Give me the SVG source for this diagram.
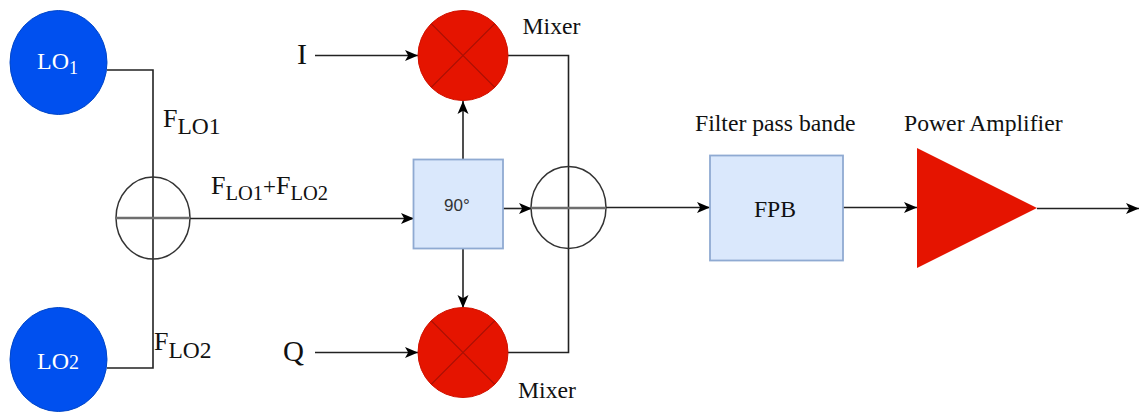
<svg xmlns="http://www.w3.org/2000/svg" width="1139" height="412" viewBox="0 0 1139 412">
<style>
.w{fill:none;stroke:#222;stroke-width:1.6}
.a{marker-end:url(#arr)}
.sum{fill:none;stroke:#333;stroke-width:1.5}
.bar{stroke:#6e6e6e;stroke-width:2.4}
.lo{fill:#0050ef;stroke:#0046c8;stroke-width:1}
.mix{fill:#e51400;stroke:#d01200;stroke-width:1}
.x{stroke:#a81004;stroke-width:1.2}
.box{fill:#dae8fc;stroke:#8faad2;stroke-width:1.8}
text{font-family:"Liberation Serif","Times New Roman",serif;fill:#111}
.t{font-size:23.7px}
.f{font-size:26px}
.s{font-size:23.5px}
</style>
<defs>
<marker id="arr" markerUnits="userSpaceOnUse" markerWidth="14" markerHeight="14" refX="13" refY="7" orient="auto">
<path d="M0 1.500 L13 7 L0 12.500 L3.200 7 Z" fill="#000"/>
</marker>
</defs>
<g id="connectors">
<path class="w" d="M107 70H153V368H107"/>
<path class="w a" d="M190 218.500H414"/>
<path class="w a" d="M315 55.500H418"/>
<path class="w a" d="M315 352.500H418"/>
<path class="w a" d="M463 159V101"/>
<path class="w a" d="M463 248V308"/>
<path class="w" d="M508 55.500H568.500V352.500H508"/>
<path class="w a" d="M503 208.500H532"/>
<path class="w a" d="M606 207.500H710"/>
<path class="w a" d="M843 207.500H917"/>
<path class="w a" d="M1037 208.500H1139"/>
</g>
<g id="lo1"><ellipse class="lo" cx="58.500" cy="62.500" rx="48.500" ry="52"/>
<text x="37" y="68.500" style="font-size:24px;fill:#fff">LO<tspan font-size="18" dy="5">1</tspan></text></g>
<g id="lo2"><ellipse class="lo" cx="58.500" cy="359.500" rx="48.500" ry="52"/>
<text x="37" y="368.500" style="font-size:24px;fill:#fff">LO<tspan font-size="20">2</tspan></text></g>
<g id="sum1"><ellipse class="sum" cx="153" cy="218" rx="37" ry="41"/><path class="bar" d="M116 218H190"/></g>
<g id="sum2"><ellipse class="sum" cx="568.500" cy="207.500" rx="37.500" ry="41"/><path class="bar" d="M531 208H606"/></g>
<g id="mixer1"><circle class="mix" cx="463" cy="55.500" r="45"/><path class="x" d="M431.200 23.700L494.800 87.300M494.800 23.700L431.200 87.300"/></g>
<g id="mixer2"><circle class="mix" cx="463" cy="352.500" r="45"/><path class="x" d="M431.200 320.700L494.800 384.300M494.800 320.700L431.200 384.300"/></g>
<g id="phase"><rect class="box" x="413.500" y="159.500" width="89.500" height="89"/>
<text x="444" y="210.800" style="font-family:'Liberation Sans',Arial,sans-serif;font-size:17px;fill:#333">90°</text></g>
<g id="fpb"><rect class="box" x="710" y="155.500" width="133" height="105"/>
<text class="t" x="775" y="217" text-anchor="middle">FPB</text></g>
<g id="amp"><path d="M917 148L1037 208L917 268Z" fill="#e51400"/></g>
<g id="labels">
<text class="t" x="522.500" y="33.500">Mixer</text>
<text class="t" x="518" y="397.500">Mixer</text>
<text class="t" x="695" y="131">Filter pass bande</text>
<text class="t" x="904" y="131">Power Amplifier</text>
<text x="297" y="63.500" font-size="30">I</text>
<text x="283" y="361" font-size="29">Q</text>
<text class="f" x="163" y="127">F<tspan class="s" dy="7">LO1</tspan></text>
<text class="f" x="154" y="350">F<tspan class="s" dy="8">LO2</tspan></text>
<text class="f" x="211" y="194">F<tspan font-size="20.500" dy="6">LO1</tspan><tspan dy="-6" font-size="23">+</tspan><tspan>F</tspan><tspan font-size="20.500" dy="6">LO2</tspan></text>
</g>
</svg>
